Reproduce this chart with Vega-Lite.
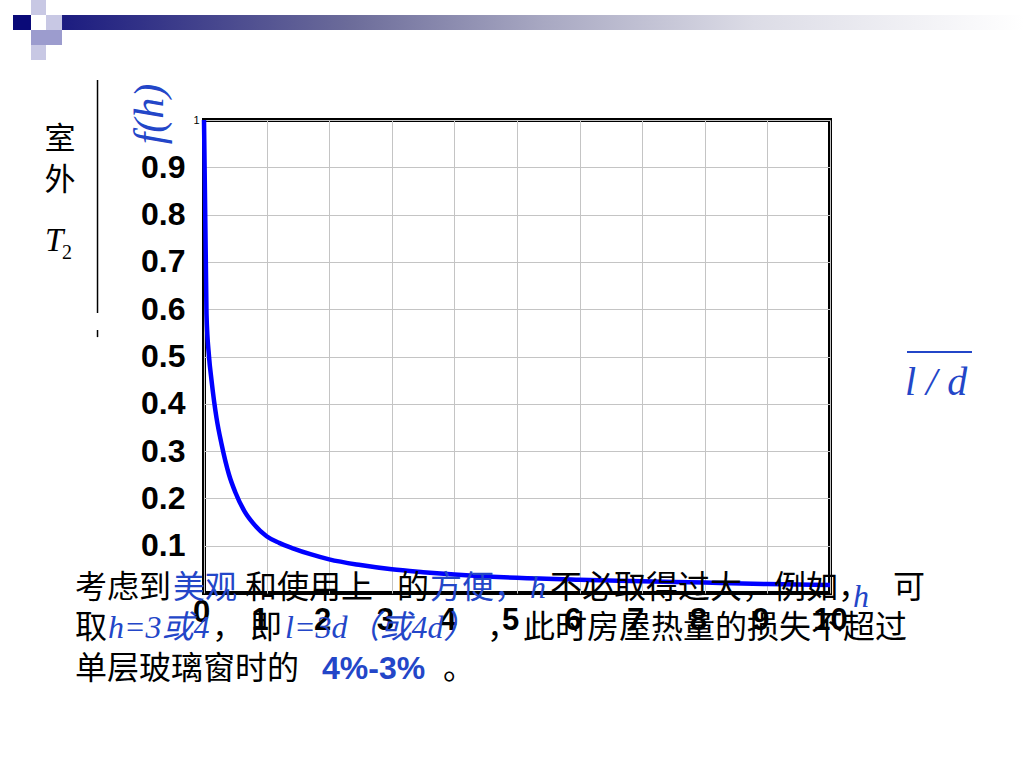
{
  "$schema": "https://vega.github.io/schema/vega-lite/v6.json",
  "width": 626,
  "height": 473,
  "autosize": {"type": "none"},
  "padding": {"left": 204, "top": 120, "right": 194, "bottom": 175},
  "background": "white",
  "config": {
    "view": {"stroke": "black", "strokeWidth": 4},
    "axis": {"gridColor": "#c4c4c4", "gridWidth": 1, "ticks": false, "domain": false, "labelColor": "black", "labelFont": "Liberation Sans", "labelFlush": false, "labelOverlap": false}
  },
  "datasets": {
    "curve": [
      {"h": 0, "f": 1.0}, {"h": 0.04, "f": 0.59}, {"h": 0.08, "f": 0.5}, {"h": 0.12, "f": 0.45},
      {"h": 0.2, "f": 0.37}, {"h": 0.28, "f": 0.315}, {"h": 0.4, "f": 0.25}, {"h": 0.5, "f": 0.213},
      {"h": 0.65, "f": 0.172}, {"h": 0.8, "f": 0.145}, {"h": 1.0, "f": 0.12}, {"h": 1.2, "f": 0.106},
      {"h": 1.43, "f": 0.094}, {"h": 1.7, "f": 0.082}, {"h": 2.0, "f": 0.071}, {"h": 2.5, "f": 0.059},
      {"h": 3.0, "f": 0.05}, {"h": 3.5, "f": 0.044}, {"h": 4.0, "f": 0.039}, {"h": 4.5, "f": 0.035},
      {"h": 5.0, "f": 0.032}, {"h": 6.0, "f": 0.028}, {"h": 7.0, "f": 0.025}, {"h": 8.0, "f": 0.022},
      {"h": 9.0, "f": 0.019}, {"h": 10.0, "f": 0.017}
    ],
    "blackText": [
      {"text": "考虑到", "h": -2.061, "f": 0.0106},
      {"text": "和使用上", "h": 0.655, "f": 0.0106},
      {"text": "的", "h": 3.083, "f": 0.0106},
      {"text": "不必取得过大，例如，", "h": 5.527, "f": 0.0106},
      {"text": "可", "h": 11.006, "f": 0.0106},
      {"text": "取", "h": -2.061, "f": -0.074},
      {"text": "，", "h": 0.128, "f": -0.074},
      {"text": "即", "h": 0.735, "f": -0.074},
      {"text": "，", "h": 4.521, "f": -0.074},
      {"text": "此时房屋热量的损失不超过", "h": 5.096, "f": -0.074},
      {"text": "单层玻璃窗时的", "h": -2.061, "f": -0.1607},
      {"text": "。", "h": 3.818, "f": -0.1607}
    ],
    "sideText": [
      {"text": "室", "h": -2.3, "f": 0.9577},
      {"text": "外", "h": -2.3, "f": 0.871}
    ],
    "blueText": [
      {"text": "美观", "h": -0.495, "f": 0.0106},
      {"text": "方便，", "h": 3.61, "f": 0.0106}
    ],
    "blueItalic": [
      {"text": "h", "h": 5.208, "f": 0.0106},
      {"text": "h", "h": 10.367, "f": -0.0085},
      {"text": "h=3或4", "h": -1.534, "f": -0.074},
      {"text": "l=3d（或4d）", "h": 1.294, "f": -0.074}
    ],
    "blueBold": [
      {"text": "4%-3%", "h": 1.885, "f": -0.1607}
    ],
    "navy": [{"x1": -3.051, "x2": -2.764, "y1": 1.222, "y2": 1.1903}],
    "light": [
      {"x1": -2.764, "x2": -2.524, "y1": 1.2537, "y2": 1.222},
      {"x1": -2.524, "x2": -2.268, "y1": 1.222, "y2": 1.1903},
      {"x1": -2.764, "x2": -2.524, "y1": 1.1586, "y2": 1.1268}
    ],
    "medium": [
      {"x1": -2.764, "x2": -2.524, "y1": 1.1903, "y2": 1.1586},
      {"x1": -2.524, "x2": -2.268, "y1": 1.1903, "y2": 1.1586}
    ],
    "bar": [{"x1": -2.268, "x2": 13.1, "y1": 1.222, "y2": 1.1903}],
    "one": [{}]
  },
  "layer": [
    {
      "data": {"name": "curve"},
      "mark": {"type": "line", "color": "#0000ff", "strokeWidth": 4.5, "interpolate": "monotone"},
      "encoding": {
        "x": {"field": "h", "type": "quantitative", "title": null,
          "scale": {"domain": [0, 10], "nice": false, "zero": false},
          "axis": {"values": [0, 1, 2, 3, 4, 5, 6, 7, 8, 9, 10], "format": "d", "grid": true, "title": null,
            "labelFontSize": 31, "labelFontWeight": "bold",
            "labelPadding": {"condition": {"test": "datum.value == 0", "value": 4}, "value": 12},
            "labelOffset": {"condition": [{"test": "datum.value == 0", "value": -3}, {"test": "datum.value == 10", "value": 0}], "value": -7}}},
        "y": {"field": "f", "type": "quantitative", "title": null,
          "scale": {"domain": [0, 1], "nice": false, "zero": false},
          "axis": {"values": [0.1, 0.2, 0.3, 0.4, 0.5, 0.6, 0.7, 0.8, 0.9, 1], "format": "~g", "grid": true, "title": null,
            "labelFontSize": {"condition": {"test": "datum.value == 1", "value": 11}, "value": 32},
            "labelFontWeight": {"condition": {"test": "datum.value == 1", "value": "normal"}, "value": "bold"},
            "labelPadding": {"condition": {"test": "datum.value == 1", "value": 5}, "value": 19}}}
      }
    },
    {
      "data": {"name": "bar"},
      "mark": {"type": "rect", "color": {"gradient": "linear", "x1": 0, "y1": 0, "x2": 1, "y2": 0,
        "stops": [{"offset": 0, "color": "#1c1c80"}, {"offset": 0.3, "color": "#6c6c9a"}, {"offset": 0.5, "color": "#a8a8c2"}, {"offset": 0.72, "color": "#dcdce6"}, {"offset": 1, "color": "#ffffff"}]}},
      "encoding": {
        "x": {"field": "x1", "type": "quantitative", "title": null}, "x2": {"field": "x2"},
        "y": {"field": "y1", "type": "quantitative", "title": null}, "y2": {"field": "y2"}
      }
    },
    {
      "data": {"name": "navy"},
      "mark": {"type": "rect", "color": "#0a0a78"},
      "encoding": {
        "x": {"field": "x1", "type": "quantitative", "title": null}, "x2": {"field": "x2"},
        "y": {"field": "y1", "type": "quantitative", "title": null}, "y2": {"field": "y2"}
      }
    },
    {
      "data": {"name": "light"},
      "mark": {"type": "rect", "color": "#c8c8e4"},
      "encoding": {
        "x": {"field": "x1", "type": "quantitative", "title": null}, "x2": {"field": "x2"},
        "y": {"field": "y1", "type": "quantitative", "title": null}, "y2": {"field": "y2"}
      }
    },
    {
      "data": {"name": "medium"},
      "mark": {"type": "rect", "color": "#9c9cce"},
      "encoding": {
        "x": {"field": "x1", "type": "quantitative", "title": null}, "x2": {"field": "x2"},
        "y": {"field": "y1", "type": "quantitative", "title": null}, "y2": {"field": "y2"}
      }
    },
    {
      "data": {"name": "one"},
      "mark": {"type": "rule", "color": "black", "strokeWidth": 1.5},
      "encoding": {"x": {"datum": -1.701, "type": "quantitative"}, "y": {"datum": 1.0846, "type": "quantitative"}, "y2": {"datum": 0.592}}
    },
    {
      "data": {"name": "one"},
      "mark": {"type": "rule", "color": "black", "strokeWidth": 1.5},
      "encoding": {"x": {"datum": -1.701, "type": "quantitative"}, "y": {"datum": 0.556, "type": "quantitative"}, "y2": {"datum": 0.541}}
    },
    {
      "data": {"name": "one"},
      "mark": {"type": "rule", "color": "#2346c8", "strokeWidth": 2},
      "encoding": {"x": {"datum": 11.23, "type": "quantitative"}, "x2": {"datum": 12.268}, "y": {"datum": 0.5095, "type": "quantitative"}}
    },
    {
      "data": {"name": "one"},
      "mark": {"type": "text", "text": "f(h)", "angle": 270, "font": "Liberation Serif", "fontStyle": "italic", "fontSize": 42, "color": "#2346c8", "align": "center", "baseline": "middle"},
      "encoding": {"x": {"datum": -0.863, "type": "quantitative"}, "y": {"datum": 1.0127, "type": "quantitative"}}
    },
    {
      "data": {"name": "one"},
      "mark": {"type": "text", "text": "l / d", "font": "Liberation Serif", "fontStyle": "italic", "fontSize": 40, "color": "#2346c8", "align": "left", "baseline": "middle"},
      "encoding": {"x": {"datum": 11.198, "type": "quantitative"}, "y": {"datum": 0.444, "type": "quantitative"}}
    },
    {
      "data": {"name": "one"},
      "mark": {"type": "text", "text": "T", "font": "Liberation Serif", "fontStyle": "italic", "fontSize": 33, "color": "black", "align": "left", "baseline": "middle"},
      "encoding": {"x": {"datum": -2.54, "type": "quantitative"}, "y": {"datum": 0.744, "type": "quantitative"}}
    },
    {
      "data": {"name": "one"},
      "mark": {"type": "text", "text": "2", "font": "Liberation Serif", "fontSize": 20, "color": "black", "align": "left", "baseline": "middle"},
      "encoding": {"x": {"datum": -2.268, "type": "quantitative"}, "y": {"datum": 0.719, "type": "quantitative"}}
    },
    {
      "data": {"name": "sideText"},
      "mark": {"type": "text", "font": "Noto Sans CJK SC", "fontSize": 31, "color": "black", "align": "center", "baseline": "middle"},
      "encoding": {"x": {"field": "h", "type": "quantitative", "title": null}, "y": {"field": "f", "type": "quantitative", "title": null}, "text": {"field": "text"}}
    },
    {
      "data": {"name": "blackText"},
      "mark": {"type": "text", "font": "Noto Sans CJK SC", "fontSize": 32, "color": "black", "align": "left", "baseline": "middle"},
      "encoding": {"x": {"field": "h", "type": "quantitative", "title": null}, "y": {"field": "f", "type": "quantitative", "title": null}, "text": {"field": "text"}}
    },
    {
      "data": {"name": "blueText"},
      "mark": {"type": "text", "font": "Noto Sans CJK SC", "fontSize": 32, "color": "#2346c8", "align": "left", "baseline": "middle"},
      "encoding": {"x": {"field": "h", "type": "quantitative", "title": null}, "y": {"field": "f", "type": "quantitative", "title": null}, "text": {"field": "text"}}
    },
    {
      "data": {"name": "blueItalic"},
      "mark": {"type": "text", "font": "Liberation Serif, Noto Sans CJK SC", "fontStyle": "italic", "fontSize": 32, "color": "#2346c8", "align": "left", "baseline": "middle"},
      "encoding": {"x": {"field": "h", "type": "quantitative", "title": null}, "y": {"field": "f", "type": "quantitative", "title": null}, "text": {"field": "text"}}
    },
    {
      "data": {"name": "blueBold"},
      "mark": {"type": "text", "font": "Liberation Sans", "fontWeight": "bold", "fontSize": 32, "color": "#2346c8", "align": "left", "baseline": "middle"},
      "encoding": {"x": {"field": "h", "type": "quantitative", "title": null}, "y": {"field": "f", "type": "quantitative", "title": null}, "text": {"field": "text"}}
    }
  ]
}
